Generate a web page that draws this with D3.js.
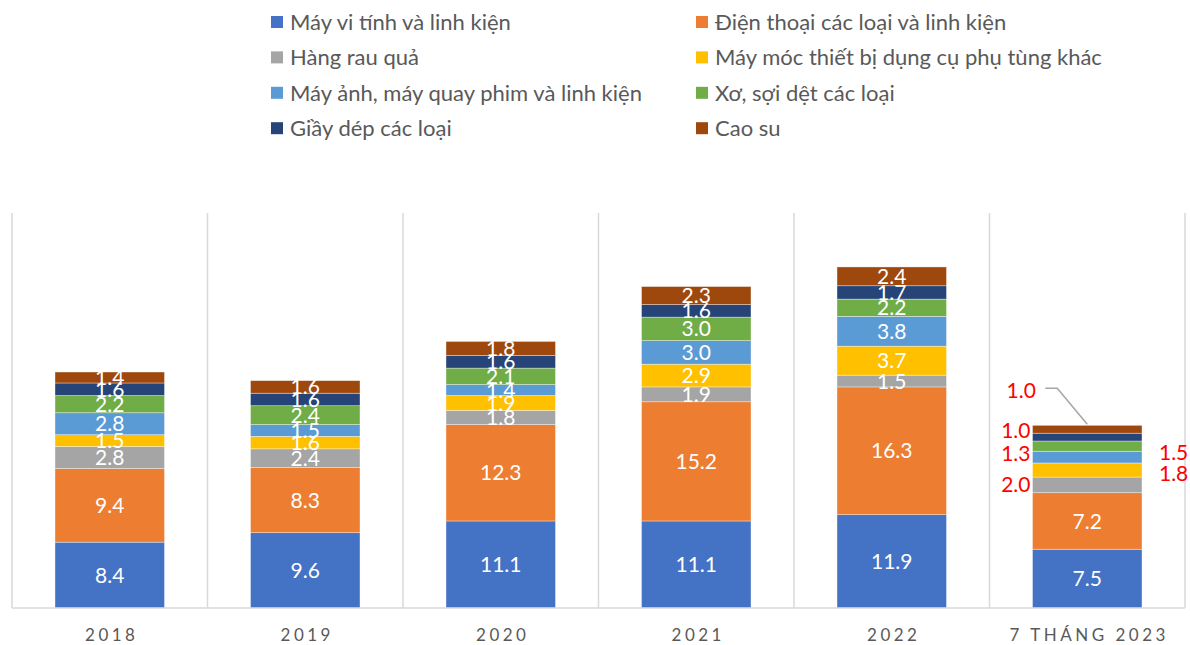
<!DOCTYPE html>
<html>
<head>
<meta charset="utf-8">
<script src="https://cdn.jsdelivr.net/npm/d3@7"></script>
<style>
  body { margin: 0; background: #fff; }
  svg text { font-family: Lato, "Liberation Sans", sans-serif; }
</style>
</head>
<body>
<div id="chart"></div>
<script>
const years = ["2018", "2019", "2020", "2021", "2022", "7 THÁNG 2023"];

const seriesNames = [
    "Máy vi tính và linh kiện",
    "Điện thoại các loại và linh kiện",
    "Hàng rau quả",
    "Máy móc thiết bị dụng cụ phụ tùng khác",
    "Máy ảnh, máy quay phim và linh kiện",
    "Xơ, sợi dệt các loại",
    "Giầy dép các loại",
    "Cao su"
];

const mayViTinh  = [8.4, 9.6, 11.1, 11.1, 11.9, 7.5];
const dienThoai  = [9.4, 8.3, 12.3, 15.2, 16.3, 7.2];
const rauQua     = [2.8, 2.4, 1.8, 1.9, 1.5, 2.0];
const mayMoc     = [1.5, 1.6, 1.9, 2.9, 3.7, 1.8];
const mayAnh     = [2.8, 1.5, 1.4, 3.0, 3.8, 1.5];
const xoSoi      = [2.2, 2.4, 2.1, 3.0, 2.2, 1.3];
const giayDep    = [1.6, 1.6, 1.6, 1.6, 1.7, 1.0];
const caoSu      = [1.4, 1.6, 1.8, 2.3, 2.4, 1.0];

const seriesValues = [mayViTinh, dienThoai, rauQua, mayMoc, mayAnh, xoSoi, giayDep, caoSu];
const colors = ["#4472C4", "#ED7D31", "#A5A5A5", "#FFC000", "#5B9BD5", "#70AD47", "#264478", "#9E480E"];

const W = 1190, H = 645;
const svg = d3.select("#chart").append("svg")
    .attr("width", W).attr("height", H);

const data = years.map((y, i) => {
    const row = { year: y };
    seriesNames.forEach((s, j) => row[s] = seriesValues[j][i]);
    return row;
});

const stacked = d3.stack().keys(seriesNames)(data);

const x = d3.scaleBand()
    .domain(years)
    .range([12, 1185])
    .paddingInner(0.44)
    .paddingOuter(0.22);

const y = d3.scaleLinear().domain([0, 50]).range([608, 216]);

// vertical separators between categories
const step = x.step();
svg.selectAll("line.sep")
    .data(d3.range(years.length + 1))
    .join("line")
    .attr("class", "sep")
    .attr("x1", i => 12 + i * step)
    .attr("x2", i => 12 + i * step)
    .attr("y1", 213)
    .attr("y2", 608)
    .attr("stroke", "#d9d9d9")
    .attr("stroke-width", 1.5);

// stacked bars
const layers = svg.selectAll("g.layer")
    .data(stacked)
    .join("g")
    .attr("class", "layer")
    .attr("fill", (d, i) => colors[i]);

layers.selectAll("rect")
    .data(d => d)
    .join("rect")
    .attr("x", d => x(d.data.year))
    .attr("y", d => y(d[1]))
    .attr("width", x.bandwidth())
    .attr("height", d => y(d[0]) - y(d[1]))
    .attr("stroke", "#ffffff")
    .attr("stroke-opacity", 0.6)
    .attr("stroke-width", 0.6);

// baseline
svg.append("line")
    .attr("x1", 12).attr("x2", 1185)
    .attr("y1", 608).attr("y2", 608)
    .attr("stroke", "#d9d9d9")
    .attr("stroke-width", 1.5);

// labels for the last column are placed outside the bar in red
const lastIdx = years.length - 1;
const outside = [null, null,
    { side: "left", dy: 0 },
    { side: "right", dy: 3 },
    { side: "right", dy: -5 },
    { side: "left", dy: 7 },
    { side: "left", dy: -7 },
    { side: "leader", dy: 0 }
];
const labelSize = "21px";

stacked.forEach((layer, j) => {
    layer.forEach((d, i) => {
        const v = d[1] - d[0];
        const cx = x(d.data.year) + x.bandwidth() / 2;
        const cy = (y(d[0]) + y(d[1])) / 2;
        const fmt = v.toFixed(1);
        if (i === lastIdx && outside[j]) {
            const o = outside[j];
            if (o.side === "leader") {
                const lx = cx - 66, ly = y(d[1]) - 35;
                svg.append("text")
                    .attr("x", lx).attr("y", ly)
                    .attr("dy", "0.36em")
                    .attr("text-anchor", "middle")
                    .attr("fill", "#FF0000")
                    .style("font-size", labelSize)
                    .text(fmt);
                svg.append("polyline")
                    .attr("points", [[lx + 24, ly - 2], [lx + 36, ly - 2], [cx, y(d[1]) - 1]].map(p => p.join(",")).join(" "))
                    .attr("fill", "none")
                    .attr("stroke", "#a6a6a6")
                    .attr("stroke-width", 1.5);
            } else {
                const left = o.side === "left";
                svg.append("text")
                    .attr("x", left ? x(d.data.year) - 2 : x(d.data.year) + x.bandwidth() + 17)
                    .attr("y", cy + o.dy)
                    .attr("dy", "0.36em")
                    .attr("text-anchor", left ? "end" : "start")
                    .attr("fill", "#FF0000")
                    .style("font-size", labelSize)
                    .text(fmt);
            }
        } else {
            svg.append("text")
                .attr("x", cx)
                .attr("y", cy)
                .attr("dy", "0.36em")
                .attr("text-anchor", "middle")
                .attr("fill", "#ffffff")
                .style("font-size", labelSize)
                .text(fmt);
        }
    });
});

// x axis labels
svg.selectAll("text.xlab")
    .data(years)
    .join("text")
    .attr("class", "xlab")
    .attr("x", d => x(d) + x.bandwidth() / 2 + 2)
    .attr("y", 641)
    .attr("text-anchor", "middle")
    .attr("fill", "#595959")
    .style("font-size", "17px")
    .style("letter-spacing", "3.5px")
    .text(d => d);

// legend, two columns
const legend = svg.selectAll("g.leg")
    .data(seriesNames)
    .join("g")
    .attr("class", "leg")
    .attr("transform", (d, i) => `translate(${i % 2 === 0 ? 271 : 696}, ${22 + Math.floor(i / 2) * 35.4})`);

legend.append("rect")
    .attr("x", 0).attr("y", -6)
    .attr("width", 12).attr("height", 12)
    .attr("fill", (d, i) => colors[i]);

legend.append("text")
    .attr("x", 19)
    .attr("dy", "0.36em")
    .attr("fill", "#595959")
    .style("font-size", "22px")
    .text(d => d);
</script>
</body>
</html>
